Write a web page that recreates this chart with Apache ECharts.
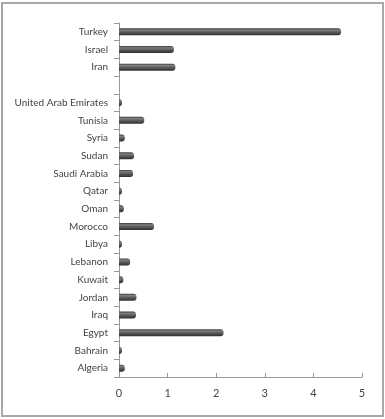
<!DOCTYPE html>
<html>
<head>
<meta charset="utf-8">
<script src="https://cdn.jsdelivr.net/npm/echarts@6/dist/echarts.min.js"></script>
<style>html,body{margin:0;padding:0;background:#fff}#c{width:385px;height:419px}</style>
</head>
<body>
<div id="c"></div>
<script>
var categories = ['Algeria','Bahrain','Egypt','Iraq','Jordan','Kuwait','Lebanon','Libya','Morocco','Oman','Qatar','Saudi Arabia','Sudan','Syria','Tunisia','United Arab Emirates','','Iran','Israel','Turkey'];
var values = [0.12,0.03,2.15,0.35,0.36,0.09,0.23,0.04,0.72,0.1,0.03,0.29,0.31,0.12,0.52,0.05,null,1.16,1.13,4.57];
var xTicks = [0,1,2,3,4,5];

var chart = echarts.init(document.getElementById('c'));
chart.setOption({
  animation: false,
  backgroundColor: '#fff',
  graphic: [{
    type: 'rect', shape: {x: 2, y: 3, width: 381, height: 413},
    style: {fill: 'none', stroke: '#a8a8a8', lineWidth: 2}
  }],
  grid: {left: 119, right: 23, top: 23, bottom: 42},
  xAxis: {
    type: 'value', min: xTicks[0], max: xTicks[xTicks.length-1], interval: 1,
    axisLine: {show: true, lineStyle: {color: '#999', width: 1}},
    axisTick: {show: true, inside: true, length: 4, lineStyle: {color: '#999'}},
    splitLine: {show: false},
    axisLabel: {color: '#444', fontFamily: 'Lato', fontSize: 11, margin: 11}
  },
  yAxis: {
    type: 'category', data: categories,
    axisLine: {show: true, lineStyle: {color: '#999', width: 1}},
    axisTick: {show: true, length: 5, lineStyle: {color: '#999'}},
    axisLabel: {color: '#444', fontFamily: 'Lato', fontSize: 10, margin: 11}
  },
  series: [{
    type: 'bar', data: values, barWidth: 7, barMinHeight: 3,
    itemStyle: {
      borderRadius: [0, 3, 3, 0],
      color: new echarts.graphic.LinearGradient(0, 0, 0, 1, [
        {offset: 0, color: '#3a3a3a'},
        {offset: 0.25, color: '#808080'},
        {offset: 0.5, color: '#5f5f5f'},
        {offset: 1, color: '#2e2e2e'}
      ])
    }
  }]
});
</script>
</body>
</html>
